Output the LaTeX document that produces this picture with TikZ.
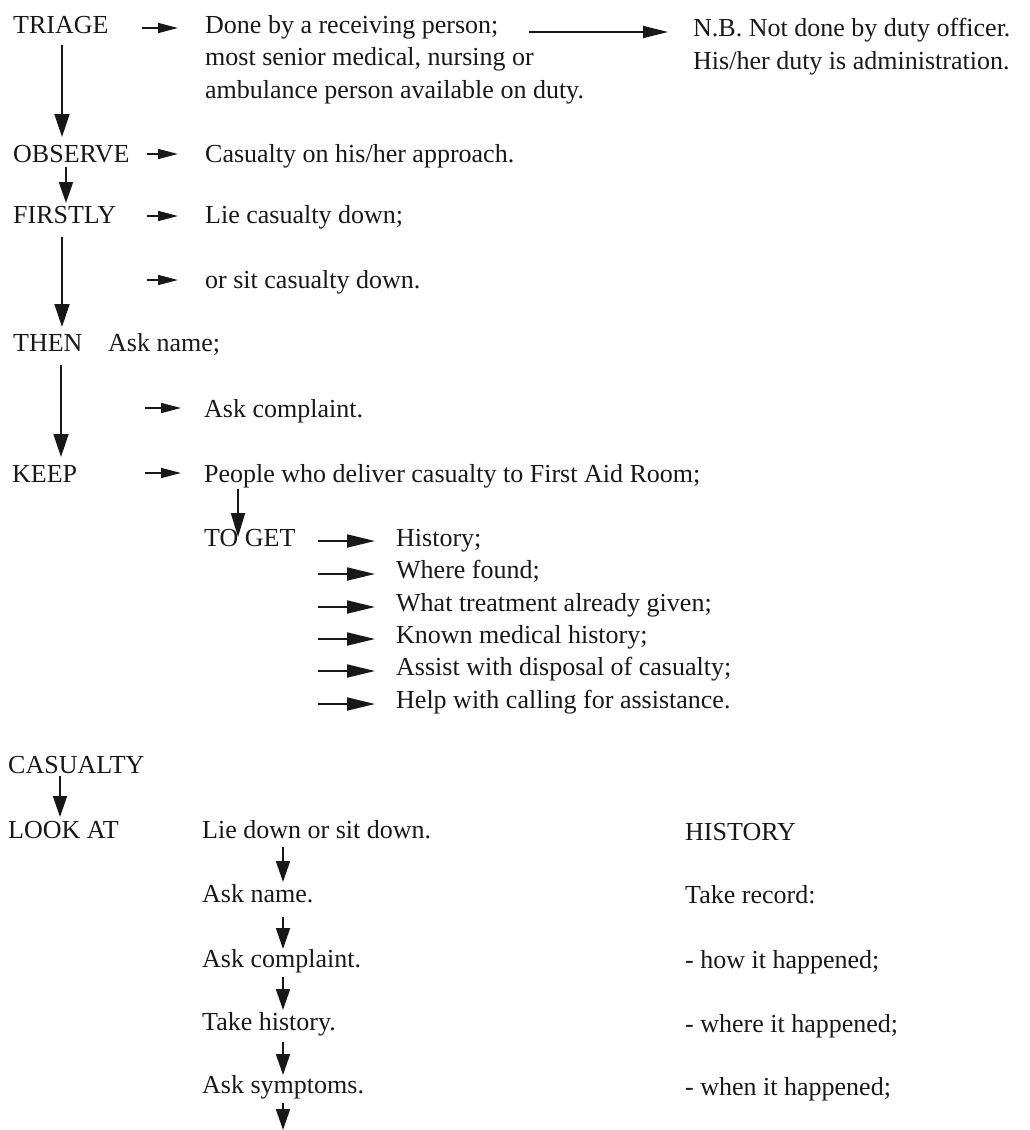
\documentclass[tikz,border=0pt]{standalone}
\usepackage{fontspec}
\setmainfont{Liberation Serif}
\usetikzlibrary{arrows.meta}
\definecolor{ink}{RGB}{24,24,24}
\tikzset{
  txt/.style={anchor=base west, inner sep=0pt, text=ink, font=\fontsize{26}{30}\selectfont},
  harr/.style={draw=ink, line width=1.5pt, -{Triangle[length=20pt,width=10pt]}},
  larr/.style={draw=ink, line width=1.8pt, -{Triangle[length=28pt,width=13pt]}},
  varr/.style={draw=ink, line width=1.8pt, -{Triangle[length=21pt,width=14pt]}},
}
\begin{document}
\begin{tikzpicture}[x=1pt,y=-1pt]
\useasboundingbox (0,0) rectangle (1029,1130);
% ---- upper block
\node[txt] (triage)  at (13,33)  {TRIAGE};
\node[txt] (done)    at (205,33) {Done by a receiving person;};
\node[txt] (most)    at (205,65) {most senior medical, nursing or};
\node[txt] (amb)     at (205,98) {ambulance person available on duty.};
\node[txt] (nb)      at (693,36) {N.B. Not done by duty officer.};
\node[txt] (his)     at (693,69) {His/her duty is administration.};
\node[txt] (observe) at (13,162) {OBSERVE};
\node[txt] (casapp)  at (205,162) {Casualty on his/her approach.};
\node[txt] (firstly) at (13,223) {FIRSTLY};
\node[txt] (lie)     at (205,223) {Lie casualty down;};
\node[txt] (orsit)   at (205,288) {or sit casualty down.};
\node[txt] (then)    at (13,351) {THEN};
\node[txt] (askname) at (108,351) {Ask name;};
\node[txt] (askcomp) at (204,417) {Ask complaint.};
\node[txt] (keep)    at (12,482) {KEEP};
\node[txt] (people)  at (204,482) {People who deliver casualty to First Aid Room;};
\node[txt] (toget)   at (204,546) {TO GET};
\node[txt] (g1) at (396,546) {History;};
\node[txt] (g2) at (396,578) {Where found;};
\node[txt] (g3) at (396,611) {What treatment already given;};
\node[txt] (g4) at (396,643) {Known medical history;};
\node[txt] (g5) at (396,675) {Assist with disposal of casualty;};
\node[txt] (g6) at (396,708) {Help with calling for assistance.};
% ---- lower block
\node[txt] (casualty) at (8,773) {CASUALTY};
\node[txt] (lookat)   at (8,838) {LOOK AT};
\node[txt] (l1) at (202,838)  {Lie down or sit down.};
\node[txt] (l2) at (202,902)  {Ask name.};
\node[txt] (l3) at (202,967)  {Ask complaint.};
\node[txt] (l4) at (202,1030) {Take history.};
\node[txt] (l5) at (202,1093) {Ask symptoms.};
\node[txt] (h0) at (685,840)  {HISTORY};
\node[txt] (h1) at (685,903)  {Take record:};
\node[txt] (h2) at (685,968)  {- how it happened;};
\node[txt] (h3) at (685,1032) {- where it happened;};
\node[txt] (h4) at (685,1095) {- when it happened;};
% ---- horizontal arrow tails
\coordinate (a1) at (142,28);
\coordinate (a2) at (147,154);
\coordinate (a3) at (147,216);
\coordinate (a4) at (147,280);
\coordinate (a5) at (145,408);
\coordinate (a6) at (145,473);
\coordinate (an) at (529,32);
\coordinate (t1) at (318,541);
\coordinate (t2) at (318,574);
\coordinate (t3) at (318,607);
\coordinate (t4) at (318,639);
\coordinate (t5) at (318,671);
\coordinate (t6) at (318,704);
\coordinate (endarrow) at (283,1130);
% ---- horizontal arrows
\draw[harr, shorten >=27pt] (a1) -- (a1 -| done.west);
\draw[harr, shorten >=27pt] (a2) -- (a2 -| casapp.west);
\draw[harr, shorten >=27pt] (a3) -- (a3 -| lie.west);
\draw[harr, shorten >=27pt] (a4) -- (a4 -| orsit.west);
\draw[harr, shorten >=23pt] (a5) -- (a5 -| askcomp.west);
\draw[harr, shorten >=23pt] (a6) -- (a6 -| people.west);
\draw[harr, line width=1.6pt, -{Triangle[length=25pt,width=12pt]}, shorten >=25pt] (an) -- (an -| nb.west);
\foreach \i in {1,...,6}{
  \draw[larr, shorten >=21pt] (t\i) -- (t\i -| g\i.west);
}
% ---- vertical arrows
\draw[varr, -{Triangle[length=23pt,width=15pt]}, shorten <=12pt, shorten >=25pt] (62,0 |- triage.base) -- (62,0 |- observe.base);
\draw[varr, shorten <=5pt, shorten >=20pt] (66,0 |- observe.base) -- (66,0 |- firstly.base);
\draw[varr, -{Triangle[length=23pt,width=15pt]}, shorten <=14pt, shorten >=24pt] (62,0 |- firstly.base) -- (62,0 |- then.base);
\draw[varr, -{Triangle[length=23pt,width=15pt]}, shorten <=14pt, shorten >=25pt] (61,0 |- then.base) -- (61,0 |- keep.base);
\draw[varr, -{Triangle[length=24pt,width=14pt]}, shorten <=7pt, shorten >=9pt] (238,0 |- people.base) -- (238,0 |- toget.base);
\draw[varr, shorten <=3pt, shorten >=21pt] (60,0 |- casualty.base) -- (60,0 |- lookat.base);
\draw[varr, shorten <=9pt, shorten >=20pt] (283,0 |- l1.base) -- (283,0 |- l2.base);
\draw[varr, shorten <=15pt, shorten >=18pt] (283,0 |- l2.base) -- (283,0 |- l3.base);
\draw[varr, shorten <=10pt, shorten >=20pt] (283,0 |- l3.base) -- (283,0 |- l4.base);
\draw[varr, shorten <=12pt, shorten >=18pt] (283,0 |- l4.base) -- (283,0 |- l5.base);
\draw[varr, shorten <=10pt] (283,0 |- l5.base) -- (endarrow);
\end{tikzpicture}
\end{document}
